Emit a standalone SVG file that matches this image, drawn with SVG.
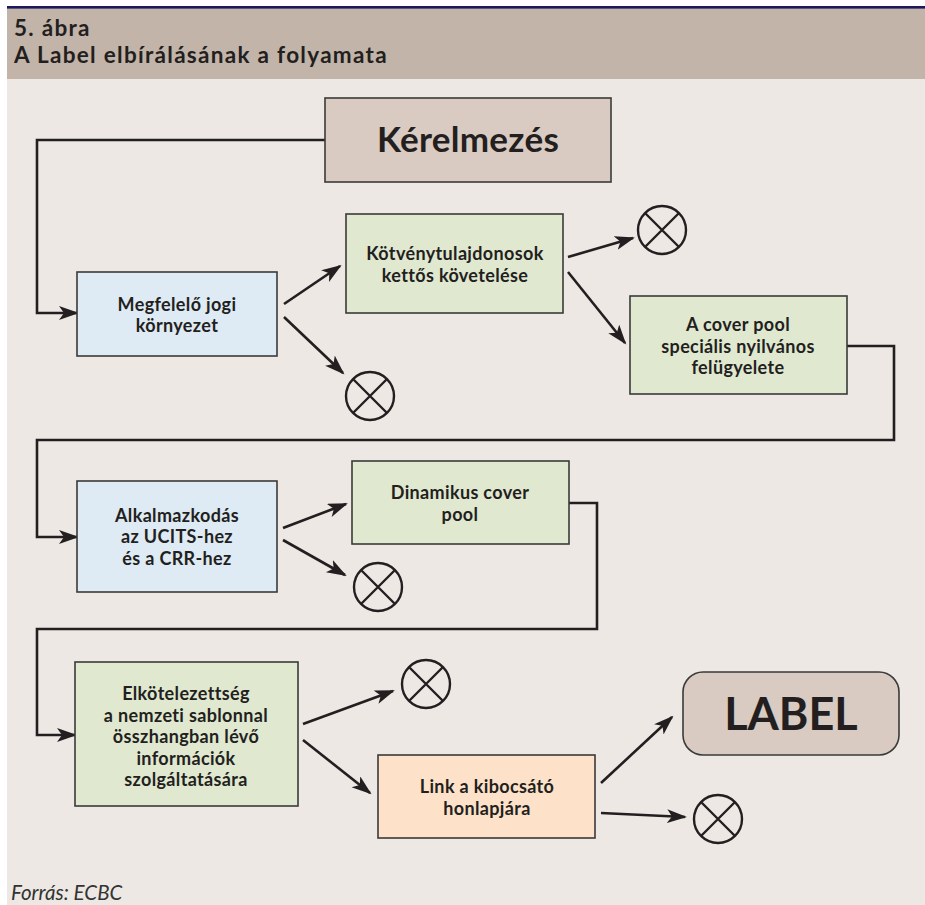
<svg xmlns="http://www.w3.org/2000/svg" width="925" height="905" viewBox="0 0 925 905">
<style>
.bg{fill:#ede8e4}
.box{stroke:#3a3a3a;stroke-width:1.6}
.t{font-family:Lato,"Open Sans","Liberation Sans",sans-serif;font-weight:700;font-size:18px;letter-spacing:0.35px;fill:#231f20;text-anchor:middle}
.big{font-size:35px;letter-spacing:0.3px}
.lab{font-size:45px;letter-spacing:0}
.con{fill:none;stroke:#231f20;stroke-width:2.6}
.x{fill:none;stroke:#231f20;stroke-width:2.4}
.hd{font-family:Lato,"Open Sans","Liberation Sans",sans-serif;font-weight:700;font-size:22.5px;letter-spacing:1.3px;fill:#231f20}
</style>
<defs>
<marker id="ah" markerUnits="userSpaceOnUse" markerWidth="22" markerHeight="16" refX="18" refY="7" orient="auto">
<path d="M0,0 L20,7 L0,14 L5,7 Z" fill="#231f20"/>
</marker>
</defs>
<rect x="0" y="0" width="925" height="905" fill="#ffffff"/>
<rect x="7" y="8" width="918" height="897" class="bg"/>
<rect x="7" y="8" width="918" height="71" fill="#c2b4a8"/>
<rect x="7" y="6" width="918" height="2.6" fill="#1c1a5c"/>
<text class="hd" x="14" y="35.5">5. ábra</text>
<text class="hd" x="14" y="63">A Label elbírálásának a folyamata</text>

<g id="connectors">
<path class="con" d="M325,140 H37 V313 H77" marker-end="url(#ah)"/>
<path class="con" d="M847,346 H894 V440 H37 V537 H77" marker-end="url(#ah)"/>
<path class="con" d="M569,503 H597 V629 H37 V735 H75" marker-end="url(#ah)"/>
<line class="con" x1="284" y1="304" x2="340" y2="266" marker-end="url(#ah)"/>
<line class="con" x1="284" y1="317" x2="343" y2="373" marker-end="url(#ah)"/>
<line class="con" x1="568" y1="257" x2="633" y2="238" marker-end="url(#ah)"/>
<line class="con" x1="568" y1="272" x2="625" y2="343" marker-end="url(#ah)"/>
<line class="con" x1="283" y1="528" x2="346" y2="504" marker-end="url(#ah)"/>
<line class="con" x1="283" y1="540" x2="345" y2="575" marker-end="url(#ah)"/>
<line class="con" x1="303" y1="724" x2="393" y2="691" marker-end="url(#ah)"/>
<line class="con" x1="303" y1="740" x2="370" y2="793" marker-end="url(#ah)"/>
<line class="con" x1="601" y1="783" x2="672" y2="717" marker-end="url(#ah)"/>
<line class="con" x1="601" y1="813" x2="685" y2="817" marker-end="url(#ah)"/>
</g>

<g id="kerelmezes">
<rect class="box" x="325" y="98" width="286" height="84" fill="#d9cbc1"/>
<text class="t big" x="468" y="152">Kérelmezés</text>
</g>

<g id="megfelelo">
<rect class="box" x="77" y="272" width="200" height="84" fill="#deeaf4"/>
<text class="t" x="177" y="311">Megfelelő jogi</text>
<text class="t" x="177" y="332">környezet</text>
</g>

<g id="kotveny">
<rect class="box" x="346" y="214" width="217" height="99" fill="#e0e8d0"/>
<text class="t" x="455" y="260">Kötvénytulajdonosok</text>
<text class="t" x="455" y="281.6">kettős követelése</text>
</g>

<g id="coverpool">
<rect class="box" x="630" y="296" width="217" height="98" fill="#e0e8d0"/>
<text class="t" x="738" y="331">A cover pool</text>
<text class="t" x="738" y="352.6">speciális nyilvános</text>
<text class="t" x="738" y="374.2">felügyelete</text>
</g>

<g id="alkalmazkodas">
<rect class="box" x="77" y="481" width="200" height="111" fill="#deeaf4"/>
<text class="t" x="177" y="521.5">Alkalmazkodás</text>
<text class="t" x="177" y="543.1">az UCITS-hez</text>
<text class="t" x="177" y="564.7">és a CRR-hez</text>
</g>

<g id="dinamikus">
<rect class="box" x="352" y="461" width="217" height="83" fill="#e0e8d0"/>
<text class="t" x="460" y="499">Dinamikus cover</text>
<text class="t" x="460" y="520.6">pool</text>
</g>

<g id="elkotelezettseg">
<rect class="box" x="75" y="662" width="223" height="144" fill="#e0e8d0"/>
<text class="t" x="186" y="700">Elkötelezettség</text>
<text class="t" x="186" y="721.6">a nemzeti sablonnal</text>
<text class="t" x="186" y="743.2">összhangban lévő</text>
<text class="t" x="186" y="764.8">információk</text>
<text class="t" x="186" y="786.4">szolgáltatására</text>
</g>

<g id="link">
<rect class="box" x="378" y="755" width="217" height="83" fill="#fde2c9"/>
<text class="t" x="487" y="793">Link a kibocsátó</text>
<text class="t" x="487" y="814.6">honlapjára</text>
</g>

<g id="label">
<rect class="box" x="683" y="672" width="216" height="83" rx="20" ry="20" fill="#d9cbc1"/>
<text class="t lab" x="791" y="730">LABEL</text>
</g>

<g id="reject1">
<circle class="x" cx="370" cy="396" r="24"/>
<path class="x" d="M353,379 L387,413 M387,379 L353,413"/>
</g>
<g id="reject2">
<circle class="x" cx="662" cy="230" r="24"/>
<path class="x" d="M645,213 L679,247 M679,213 L645,247"/>
</g>
<g id="reject3">
<circle class="x" cx="378" cy="587" r="24"/>
<path class="x" d="M361,570 L395,604 M395,570 L361,604"/>
</g>
<g id="reject4">
<circle class="x" cx="426" cy="684" r="24"/>
<path class="x" d="M409,667 L443,701 M443,667 L409,701"/>
</g>
<g id="reject5">
<circle class="x" cx="718" cy="819" r="24"/>
<path class="x" d="M701,802 L735,836 M735,802 L701,836"/>
</g>

<text x="11" y="900" font-family="Lato,'Open Sans','Liberation Sans',sans-serif" font-style="italic" font-size="20.5" fill="#333333">Forrás: ECBC</text>
</svg>
